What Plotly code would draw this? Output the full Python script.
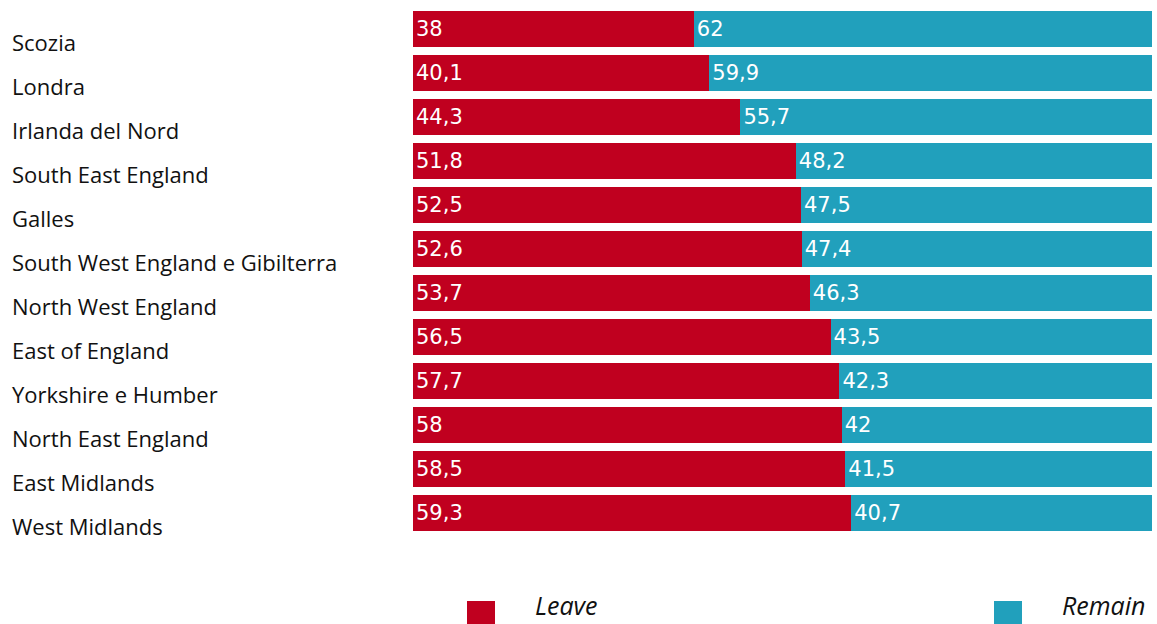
import plotly.graph_objects as go

regions = ["Scozia", "Londra", "Irlanda del Nord", "South East England", "Galles",
           "South West England e Gibilterra", "North West England", "East of England",
           "Yorkshire e Humber", "North East England", "East Midlands", "West Midlands"]
leave = [38, 40.1, 44.3, 51.8, 52.5, 52.6, 53.7, 56.5, 57.7, 58, 58.5, 59.3]
remain = [62, 59.9, 55.7, 48.2, 47.5, 47.4, 46.3, 43.5, 42.3, 42, 41.5, 40.7]
series_names = ["Leave", "Remain"]
RED = "#C0001F"
TEAL = "#21A0BC"

W, H = 1157, 624
L, R, T, B = 413, 5, 7, 89
pw, ph = W - L - R, H - T - B


def fmt(v):
    return f"{v:g}".replace(".", ",")


def px_x(px):
    return (px - L) / pw


def px_y(py):
    return (H - B - py) / ph


fig = go.Figure()
for name, vals, col in [(series_names[0], leave, RED), (series_names[1], remain, TEAL)]:
    fig.add_trace(go.Bar(
        y=regions, x=vals, orientation="h", name=name,
        marker=dict(color=col, line=dict(width=0)),
        text=[fmt(v) for v in vals], textposition="inside", insidetextanchor="start",
        textangle=0, constraintext="none",
        textfont=dict(family="DejaVu Sans", size=21, color="white"),
        hoverinfo="skip", showlegend=False,
    ))

annotations = []
for r in regions:
    annotations.append(dict(
        x=px_x(10), xref="paper", y=r, yref="y", yshift=-13,
        text=r, showarrow=False, xanchor="left", yanchor="middle",
        font=dict(family="Open Sans", size=22, color="#111111"),
    ))

shapes = []
legend_items = [(series_names[0], RED, 467, 533), (series_names[1], TEAL, 994, 1060)]
for name, col, sx, tx in legend_items:
    shapes.append(dict(type="rect", xref="paper", yref="paper",
                       x0=px_x(sx), x1=px_x(sx + 28), y0=px_y(601), y1=px_y(629),
                       fillcolor=col, line=dict(width=0), layer="above"))
    annotations.append(dict(
        x=px_x(tx), xref="paper", y=px_y(624), yref="paper",
        text=f"<i>{name}</i>", showarrow=False, xanchor="left", yanchor="bottom",
        font=dict(family="Open Sans", size=25, color="#111111"),
    ))

fig.update_layout(
    width=W, height=H, margin=dict(l=L, r=R, t=T, b=B, pad=0),
    barmode="stack", bargap=0.18,
    plot_bgcolor="white", paper_bgcolor="white",
    xaxis=dict(range=[0, 100], visible=False, fixedrange=True),
    yaxis=dict(range=[len(regions) - 0.5, -0.5], showticklabels=False, showgrid=False,
               zeroline=False, showline=False, ticks="", fixedrange=True),
    annotations=annotations, shapes=shapes,
    uniformtext=dict(mode=False),
)

fig.write_html("out.html", config={"displayModeBar": False})
